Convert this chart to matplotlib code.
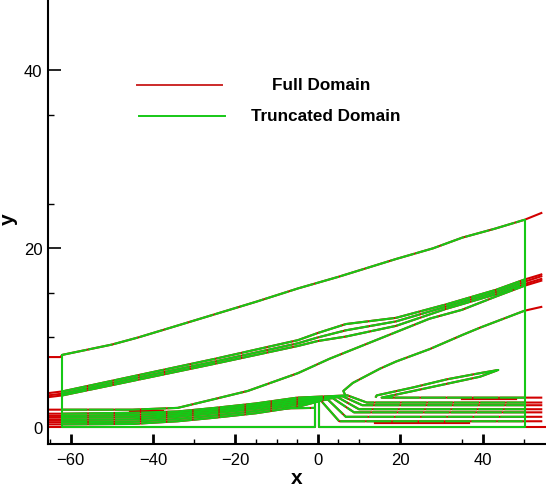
import matplotlib
matplotlib.use('Agg')
import matplotlib.pyplot as plt
from matplotlib.ticker import FixedLocator

plt.rcParams['font.family'] = ['Liberation Sans', 'DejaVu Sans']

RED = '#d20000'
GREEN = '#16c816'

# edges of the truncated domain
X_IN, X_OUT = -62.0, 50.2

# outer contour
A_X = [-65.5, -62.5, -62, -50, -43.6, -35, -25, -15, -4.8, 5, 19, 28, 35.1, 43, 50.2, 54.5]
A_Y = [7.8, 7.8, 8.05, 9.2, 10.0, 11.2, 12.6, 14.0, 15.5, 16.8, 18.8, 20.0, 21.2, 22.2, 23.2, 24.0]

# bunched band of contours
B_X = [-65.5, -62, -45.3, -25, -4.8, 0, 6.8, 19, 31.1, 43.3, 50.2, 54.5]
B1_Y = [3.75, 3.95, 5.6, 7.6, 9.7, 10.5, 11.5, 12.2, 13.7, 15.35, 16.5, 17.1]
B2_Y = [3.5, 3.7, 5.35, 7.3, 9.35, 10.0, 10.8, 11.8, 13.45, 15.1, 16.25, 16.9]
B3_Y = [3.3, 3.5, 5.1, 7.05, 9.05, 9.6, 10.1, 11.3, 13.2, 14.85, 16.0, 16.6]

C_X = [-65.5, -62, -45, -34, -25, -17, -4.8, 2.8, 10.9, 19, 27.1, 35, 43.3, 50.2, 54.5]
C_Y = [1.9, 1.9, 1.9, 2.1, 3.1, 4.0, 6.0, 7.6, 9.1, 10.6, 12.1, 13.1, 14.6, 15.8, 16.4]

D_X = [6.8, 6.2, 8.5, 15.1, 19, 27.2, 35.2, 39.4, 50.2, 54.5]
D_Y = [3.4, 4.0, 4.9, 6.5, 7.3, 8.7, 10.3, 11.1, 13.0, 13.45]

# tongue behind the step
E_X = [54.5, 50.2, 30, 15.5, 23.2, 31.3, 39.4, 43.8, 39.4, 31.3, 23.2, 14.3, 14.0]
E_Y = [3.25, 3.25, 3.25, 3.25, 4.0, 4.8, 5.6, 6.35, 6.0, 5.3, 4.4, 3.5, 3.25]

# low band near the wall
LB_X = [-65.5, -62, -45, -34, -25, -15, -5]
LB_Y = [
    [0.25, 0.25, 0.3, 0.6, 1.0, 1.5, 2.2],
    [0.5, 0.5, 0.55, 0.85, 1.25, 1.75, 2.45],
    [0.75, 0.75, 0.8, 1.1, 1.5, 2.0, 2.65],
    [1.0, 1.0, 1.05, 1.3, 1.7, 2.2, 2.85],
    [1.2, 1.2, 1.3, 1.5, 1.9, 2.4, 3.05],
    [1.45, 1.45, 1.55, 1.7, 2.1, 2.6, 3.25],
]
LB_XS = [0.8, 2.4, 3.6, 4.8, 6.0, 7.2]
LB_TOP = [2.9, 3.05, 3.2, 3.3, 3.4, 3.5]
LB_XE = [5.2, 6.8, 8.8, 10.0, 10.8, 11.9]
LB_RIGHT = [0.6, 1.1, 1.6, 1.95, 2.4, 2.7]
RIGHT_X = [50.2, 54.5]

STEP_LINE_X = [-8, -0.7]
STEP_LINE_Y = [2.05, 2.1]

# boundaries
FULL_WALL_X = [-65.5, -0.7, -0.7, 0.3, 0.3, 55.4]
FULL_WALL_Y = [0, 0, 2.9, 2.9, 0, 0]
TRUNC_BOX_X = [-62, -62, -0.7, -0.7, 0.3, 0.3, 50.2, 50.2]
TRUNC_BOX_Y = [8.05, 0, 0, 2.9, 2.9, 0, 0, 23.2]

# short pieces where only the full-domain result shows
RED_ONLY = [([-45.5, -37.5], [1.75, 1.75]),
            ([14, 36.7], [0.45, 0.45]),
            ([35, 48], [3.1, 3.1])]

contours = [(A_X, A_Y), (B_X, B1_Y), (B_X, B2_Y), (B_X, B3_Y),
            (C_X, C_Y), (D_X, D_Y), (E_X, E_Y), (STEP_LINE_X, STEP_LINE_Y)]
for ys, xs, top, xe, r in zip(LB_Y, LB_XS, LB_TOP, LB_XE, LB_RIGHT):
    contours.append((LB_X + [xs, xe] + RIGHT_X, ys + [top, r, r, r]))

fig = plt.figure(figsize=(5.46, 4.89), dpi=100)
ax = fig.add_axes([48 / 546, 44 / 489, 1 - 48 / 546, 1 - 44 / 489])

# full domain
for x, y in contours:
    ax.plot(x, y, color=RED, lw=1.5, solid_capstyle='butt')
for x, y in RED_ONLY:
    ax.plot(x, y, color=RED, lw=1.6)
ax.plot(FULL_WALL_X, FULL_WALL_Y, color=RED, lw=1.5)

# truncated domain, only inside its box
for x, y in contours:
    px = [a for a in x if X_IN <= a <= X_OUT]
    py = [b for a, b in zip(x, y) if X_IN <= a <= X_OUT]
    ax.plot(px, py, color=GREEN, lw=1.5, ls=(0, (12, 0.6)))
ax.plot(TRUNC_BOX_X, TRUNC_BOX_Y, color=GREEN, lw=1.5)

# legend
ax.plot([0.179, 0.349], [0.807, 0.807], color='#cc2a2a', lw=1.4, transform=ax.transAxes)
ax.plot([0.183, 0.355], [0.737, 0.737], color=GREEN, lw=1.4, transform=ax.transAxes)
ax.text(0.548, 0.807, 'Full Domain', transform=ax.transAxes, ha='center', va='center',
        fontsize=12.3, fontweight='bold')
ax.text(0.558, 0.738, 'Truncated Domain', transform=ax.transAxes, ha='center', va='center',
        fontsize=12.3, fontweight='bold')

ax.set_xlim(-65.5, 55.4)
ax.set_ylim(-1.95, 47.96)
ax.spines['top'].set_visible(False)
ax.spines['right'].set_visible(False)
ax.spines['left'].set_linewidth(1.5)
ax.spines['bottom'].set_linewidth(1.5)

ax.xaxis.set_major_locator(FixedLocator([-60, -40, -20, 0, 20, 40]))
ax.xaxis.set_minor_locator(FixedLocator([-65, -30, -15, -10, -5, 5, 10, 35, 50]))
ax.yaxis.set_major_locator(FixedLocator([0, 20, 40]))
ax.yaxis.set_minor_locator(FixedLocator([10, 15, 25, 35]))
ax.tick_params(axis='x', which='major', direction='in', length=7.5, width=2, labelsize=12, pad=6)
ax.tick_params(axis='x', which='minor', direction='in', length=3.5, width=1)
ax.tick_params(axis='y', which='major', direction='in', length=9, width=1.2, labelsize=12, pad=4)
ax.tick_params(axis='y', which='minor', direction='in', length=4.5, width=1)

fig.text(0.543, 0.022, 'x', ha='center', va='center', fontsize=15, fontweight='bold')
fig.text(0.016, 0.552, 'y', ha='center', va='center', fontsize=15, fontweight='bold', rotation=90)

fig.savefig('out.png', dpi=100)
